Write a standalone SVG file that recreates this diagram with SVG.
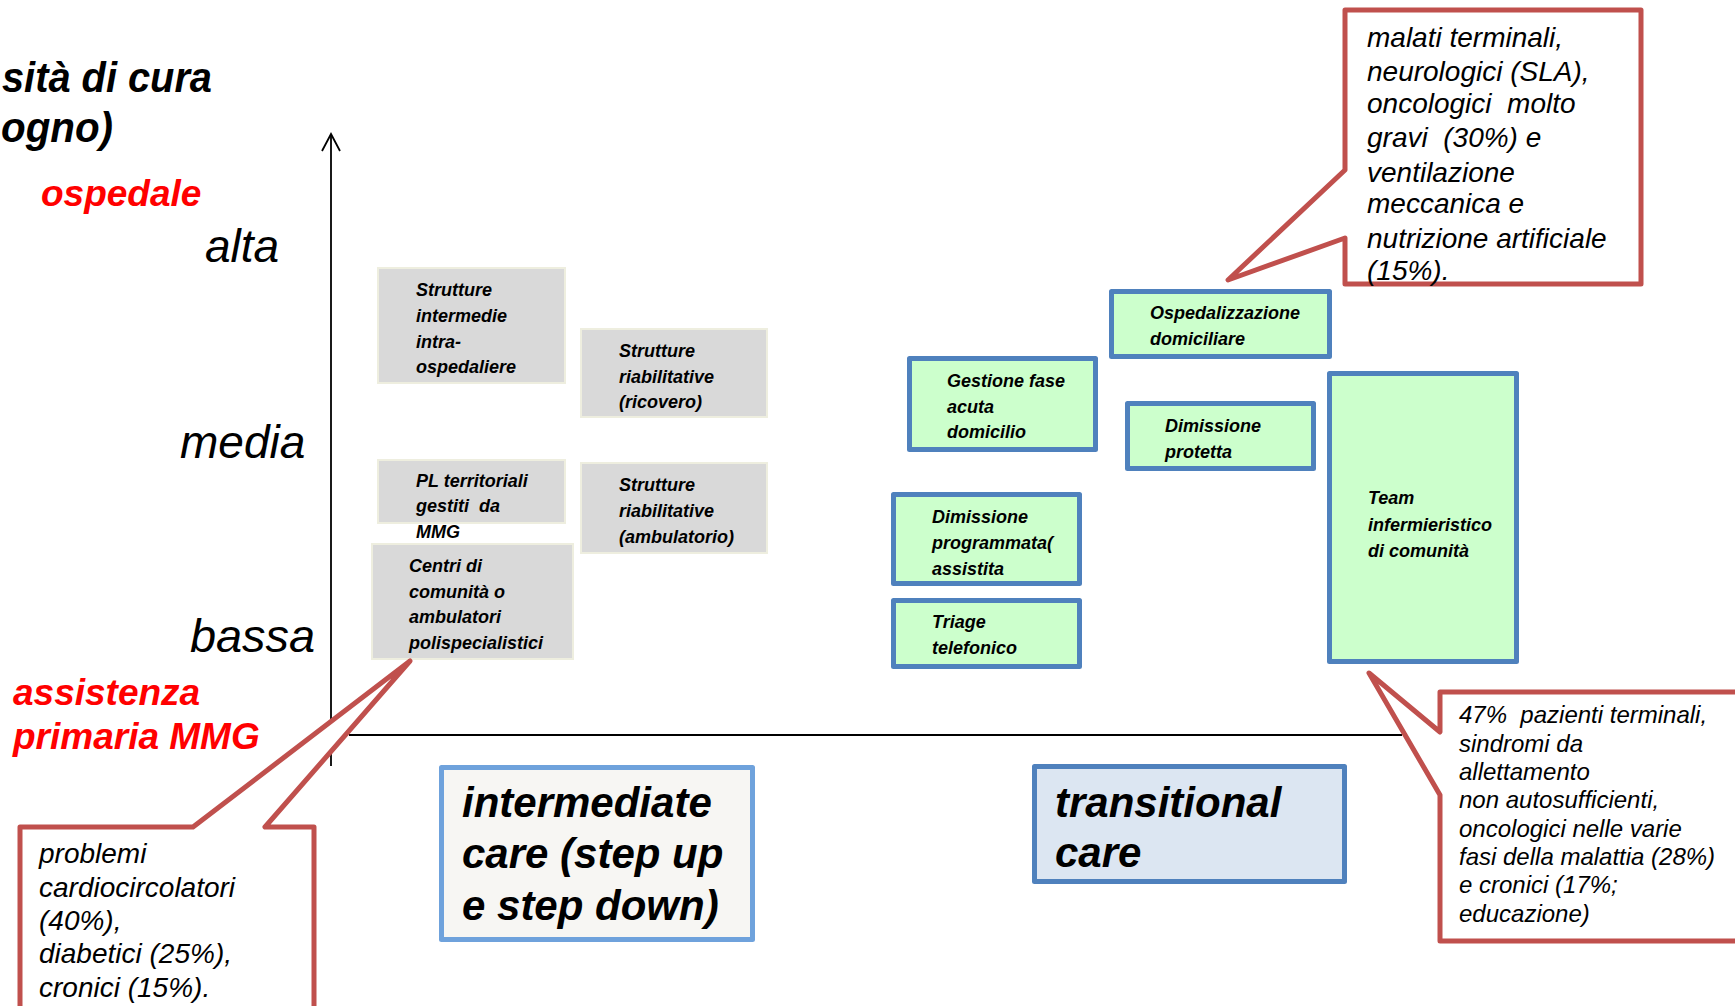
<svg xmlns="http://www.w3.org/2000/svg" width="1735" height="1006" viewBox="0 0 1735 1006">
<style>
text{font-family:"Liberation Sans",Arial,sans-serif;font-style:italic;fill:#000}
.title{font-size:42px;font-weight:bold}
.red{font-size:37px;font-weight:bold;fill:#ff0000}
.lvl{font-size:46px}
.grey{fill:#d9d9d9;stroke:#eeeedf;stroke-width:2}
.gt{font-size:18px;font-weight:bold}
.green{fill:#ccffcc;stroke:#4f81bd;stroke-width:5;stroke-linejoin:round}
.big{font-size:42px;font-weight:bold}
.call{fill:#ffffff;stroke:#c0504d;stroke-width:5;stroke-linejoin:round}
.ct{font-size:28px}
.ct2{font-size:24px}
.pre{white-space:pre}
</style>
<rect width="1735" height="1006" fill="#ffffff"/>

<g id="labels">
<text class="title" x="2" y="92" textLength="210" lengthAdjust="spacingAndGlyphs">sità di cura</text>
<text class="title" x="1" y="142" textLength="112" lengthAdjust="spacingAndGlyphs">ogno)</text>
<text class="red" x="41" y="206">ospedale</text>
<text class="lvl" x="205" y="262">alta</text>
<text class="lvl" x="180" y="458">media</text>
<text class="lvl" x="190" y="652" textLength="125" lengthAdjust="spacingAndGlyphs">bassa</text>
<text class="red" x="13" y="705">assistenza</text>
<text class="red" x="13" y="749">primaria MMG</text>
</g>

<g id="axes" fill="none" stroke="#000" stroke-width="1.8">
<line x1="331" y1="134" x2="331" y2="766"/>
<polyline points="322,151 331,134 340,151"/>
<line x1="349" y1="735" x2="1402" y2="735"/>
</g>

<g id="n-intermedie">
<rect class="grey" x="378" y="268" width="187" height="115"/>
<text class="gt"><tspan x="416" y="296">Strutture</tspan><tspan x="416" y="322">intermedie</tspan><tspan x="416" y="348">intra-</tspan><tspan x="416" y="373">ospedaliere</tspan></text>
</g>
<g id="n-riab-ricovero">
<rect class="grey" x="581" y="329" width="186" height="88"/>
<text class="gt"><tspan x="619" y="357">Strutture</tspan><tspan x="619" y="383">riabilitative</tspan><tspan x="619" y="408">(ricovero)</tspan></text>
</g>
<g id="n-pl">
<rect class="grey" x="378" y="460" width="187" height="63"/>
<text class="gt pre"><tspan x="416" y="487">PL territoriali</tspan><tspan x="416" y="512">gestiti  da</tspan><tspan x="416" y="538">MMG</tspan></text>
</g>
<g id="n-centri">
<rect class="grey" x="372" y="544" width="201" height="115"/>
<text class="gt"><tspan x="409" y="572">Centri di</tspan><tspan x="409" y="598">comunità o</tspan><tspan x="409" y="623">ambulatori</tspan><tspan x="409" y="649">polispecialistici</tspan></text>
</g>
<g id="n-riab-ambulatorio">
<rect class="grey" x="581" y="463" width="186" height="90"/>
<text class="gt"><tspan x="619" y="491">Strutture</tspan><tspan x="619" y="517">riabilitative</tspan><tspan x="619" y="543">(ambulatorio)</tspan></text>
</g>

<g id="n-ospedalizzazione">
<rect class="green" x="1111.5" y="291.5" width="218" height="65"/>
<text class="gt"><tspan x="1150" y="319">Ospedalizzazione</tspan><tspan x="1150" y="345">domiciliare</tspan></text>
</g>
<g id="n-gestione">
<rect class="green" x="909.5" y="358.5" width="186" height="91"/>
<text class="gt"><tspan x="947" y="387">Gestione fase</tspan><tspan x="947" y="413">acuta</tspan><tspan x="947" y="438">domicilio</tspan></text>
</g>
<g id="n-dim-protetta">
<rect class="green" x="1127.5" y="403.5" width="186" height="65"/>
<text class="gt"><tspan x="1165" y="432">Dimissione</tspan><tspan x="1165" y="458">protetta</tspan></text>
</g>
<g id="n-dim-programmata">
<rect class="green" x="893.5" y="494.5" width="186" height="89"/>
<text class="gt"><tspan x="932" y="523">Dimissione</tspan><tspan x="932" y="549">programmata(</tspan><tspan x="932" y="575">assistita</tspan></text>
</g>
<g id="n-triage">
<rect class="green" x="893.5" y="600.5" width="186" height="66"/>
<text class="gt"><tspan x="932" y="628">Triage</tspan><tspan x="932" y="654">telefonico</tspan></text>
</g>
<g id="n-team">
<rect class="green" x="1329.5" y="373.5" width="187" height="288"/>
<text class="gt"><tspan x="1368" y="504">Team</tspan><tspan x="1368" y="531">infermieristico</tspan><tspan x="1368" y="557">di comunità</tspan></text>
</g>

<g id="n-intermediate-care">
<rect x="441.5" y="767.5" width="311" height="172" fill="#f7f6f3" stroke="#6fa2dc" stroke-width="5" stroke-linejoin="round"/>
<text class="big"><tspan x="462" y="817">intermediate</tspan><tspan x="462" y="868">care (step up</tspan><tspan x="462" y="920">e step down)</tspan></text>
</g>
<g id="n-transitional-care">
<rect x="1034.5" y="766.5" width="310" height="115" fill="#dce6f2" stroke="#4f81bd" stroke-width="5" stroke-linejoin="round"/>
<text class="big"><tspan x="1055" y="817">transitional</tspan><tspan x="1055" y="867">care</tspan></text>
</g>

<g id="connectors">
<g id="callout-top">
<path class="call" d="M1345,10 H1641 V284 H1345 V238 L1228,280 L1345,170 Z"/>
<text class="ct pre"><tspan x="1367" y="47">malati terminali,</tspan><tspan x="1367" y="81">neurologici (SLA),</tspan><tspan x="1367" y="113">oncologici  molto</tspan><tspan x="1367" y="147">gravi  (30%) e</tspan><tspan x="1367" y="182">ventilazione</tspan><tspan x="1367" y="213">meccanica e</tspan><tspan x="1367" y="248">nutrizione artificiale</tspan><tspan x="1367" y="280">(15%).</tspan></text>
</g>
<g id="callout-right">
<path class="call" d="M1440,692 H1745 V941 H1440 V795 L1369,673 L1440,732 Z"/>
<text class="ct2 pre"><tspan x="1459" y="723">47%  pazienti terminali,</tspan><tspan x="1459" y="752">sindromi da</tspan><tspan x="1459" y="780">allettamento</tspan><tspan x="1459" y="808">non autosufficienti,</tspan><tspan x="1459" y="837">oncologici nelle varie</tspan><tspan x="1459" y="865">fasi della malattia (28%)</tspan><tspan x="1459" y="893">e cronici (17%;</tspan><tspan x="1459" y="922">educazione)</tspan></text>
</g>
<g id="callout-left">
<path class="call" d="M20,827 H193 L410,661 L265,827 H314 V1015 H20 Z"/>
<text class="ct"><tspan x="39" y="863">problemi</tspan><tspan x="39" y="897">cardiocircolatori</tspan><tspan x="39" y="930">(40%),</tspan><tspan x="39" y="963">diabetici (25%),</tspan><tspan x="39" y="997">cronici (15%).</tspan></text>
</g>
</g>
</svg>
